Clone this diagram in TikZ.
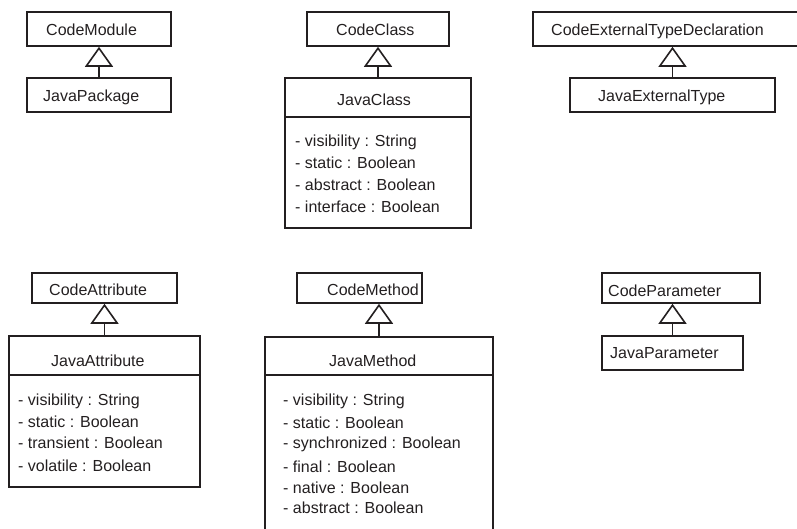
\documentclass[tikz,border=0pt]{standalone}
\usepackage{fontspec}
\setmainfont{Liberation Sans}
\usetikzlibrary{arrows.meta}
\definecolor{ink}{HTML}{231F20}
\tikzset{
  classbox/.style={draw=ink, line width=1.6pt, rectangle, inner sep=0pt},
  lbl/.style={anchor=base west, inner sep=0pt, text=ink, font=\fontsize{16}{19}\selectfont},
  sepline/.style={draw=ink, line width=1.6pt},
  inherit/.style={draw=ink, line width=1.6pt,
    -{Triangle[open, length=20pt, width=28pt, line width=1.6pt]}},
}
\begin{document}
\begin{tikzpicture}[x=1pt,y=-1pt]
\useasboundingbox (0,0) rectangle (797,528);
\clip (0,0) rectangle (797,528);

% ---- class boxes ----
\node[classbox, minimum width=144pt, minimum height=34pt] (codemodule) at (99,29) {};
\node[classbox, minimum width=144pt, minimum height=34pt] (javapackage) at (99,95) {};
\node[classbox, minimum width=142pt, minimum height=34pt] (codeclass) at (378,29) {};
\node[classbox, minimum width=186pt, minimum height=150pt] (javaclass) at (378,153) {};
\node[classbox, minimum width=267pt, minimum height=34pt] (codeext) at (666.5,29) {};
\node[classbox, minimum width=205pt, minimum height=34pt] (javaext) at (672.5,95) {};

\node[classbox, minimum width=145pt, minimum height=30pt] (codeattr) at (104.5,288) {};
\node[classbox, minimum width=191pt, minimum height=151pt] (javaattr) at (104.5,411.5) {};
\node[classbox, minimum width=125pt, minimum height=30pt] (codemethod) at (359.5,288) {};
\node[classbox, minimum width=228pt, minimum height=208pt] (javamethod) at (379,441) {};
\node[classbox, minimum width=158pt, minimum height=30pt] (codeparam) at (681,288) {};
\node[classbox, minimum width=141pt, minimum height=34pt] (javaparam) at (672.5,353) {};

% ---- compartment separators ----
\draw[sepline] (javaclass.west |- 0,117) -- (javaclass.east |- 0,117);
\draw[sepline] (javaattr.west |- 0,375) -- (javaattr.east |- 0,375);
\draw[sepline] (javamethod.west |- 0,375) -- (javamethod.east |- 0,375);

% ---- generalisation arrows ----
\draw[inherit] (javapackage.north) -- (javapackage.north |- codemodule.south);
\draw[inherit] (javaclass.north) -- (javaclass.north |- codeclass.south);
\draw[inherit] (javaext.north) -- (javaext.north |- codeext.south);
\draw[inherit] (javaattr.north) -- (javaattr.north |- codeattr.south);
\draw[inherit] (javamethod.north) -- (javamethod.north |- codemethod.south);
\draw[inherit] (javaparam.north) -- (javaparam.north |- codeparam.south);

% ---- names ----
\node[lbl] (tcodemodule) at (46,35) {CodeModule};
\node[lbl] (tjavapackage) at (43,101) {JavaPackage};
\node[lbl] (tcodeclass) at (336,35) {CodeClass};
\node[lbl] (tjavaclass) at (337,105) {JavaClass};
\node[lbl] (tcodeext) at (551,35) {CodeExternalTypeDeclaration};
\node[lbl] (tjavaext) at (598,101) {JavaExternalType};
\node[lbl] (tcodeattr) at (49,295) {CodeAttribute};
\node[lbl] (tjavaattr) at (51,366.5) {JavaAttribute};
\node[lbl] (tcodemethod) at (327,295) {CodeMethod};
\node[lbl] (tjavamethod) at (329,366.5) {JavaMethod};
\node[lbl] (tcodeparam) at (608,296) {CodeParameter};
\node[lbl] (tjavaparam) at (610,358) {JavaParameter};

% ---- attributes ----
\node[lbl] (jc1) at (295,146) {- visibility : String};
\node[lbl] (jc2) at (295,168) {- static : Boolean};
\node[lbl] (jc3) at (295,190) {- abstract : Boolean};
\node[lbl] (jc4) at (295,212) {- interface : Boolean};

\node[lbl] (ja1) at (18,405.5) {- visibility : String};
\node[lbl] (ja2) at (18,427.5) {- static : Boolean};
\node[lbl] (ja3) at (18,448.5) {- transient : Boolean};
\node[lbl] (ja4) at (18,471.5) {- volatile : Boolean};

\node[lbl] (jm1) at (283,405.5) {- visibility : String};
\node[lbl] (jm2) at (283,428.5) {- static : Boolean};
\node[lbl] (jm3) at (283,448.5) {- synchronized : Boolean};
\node[lbl] (jm4) at (283,472.5) {- final : Boolean};
\node[lbl] (jm5) at (283,493.5) {- native : Boolean};
\node[lbl] (jm6) at (283,513.5) {- abstract : Boolean};
\end{tikzpicture}
\end{document}
